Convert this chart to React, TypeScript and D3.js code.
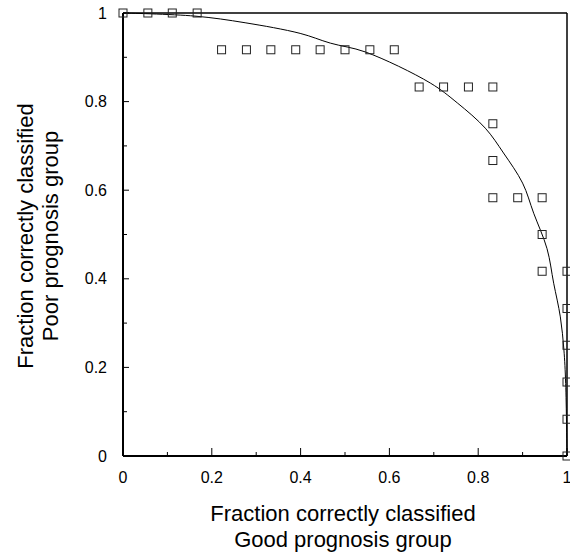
import React from "react";
import * as d3 from "d3";

const pointX = [0, 0.056, 0.111, 0.167, 0.222, 0.278, 0.333, 0.389, 0.444, 0.5, 0.556, 0.611, 0.667, 0.722, 0.778, 0.833, 0.833, 0.833, 0.833, 0.889, 0.944, 0.944, 0.944, 1, 1, 1, 1, 1, 1];
const pointY = [1, 1, 1, 1, 0.917, 0.917, 0.917, 0.917, 0.917, 0.917, 0.917, 0.917, 0.833, 0.833, 0.833, 0.833, 0.75, 0.667, 0.583, 0.583, 0.583, 0.5, 0.417, 0.417, 0.333, 0.25, 0.167, 0.083, 0];

const curveX = [0, 0.162, 0.275, 0.399, 0.467, 0.546, 0.692, 0.753, 0.816, 0.857, 0.9, 0.925, 0.955, 0.97, 0.985, 0.993, 0.997, 1];
const curveY = [1, 0.993, 0.978, 0.954, 0.932, 0.912, 0.842, 0.797, 0.74, 0.684, 0.616, 0.548, 0.468, 0.39, 0.314, 0.24, 0.164, 0];

const majorTicks = [0, 0.2, 0.4, 0.6, 0.8, 1];
const majorLabels = ["0", "0.2", "0.4", "0.6", "0.8", "1"];
const minorTicks = [0.1, 0.3, 0.5, 0.7, 0.9];

const xTitle = ["Fraction correctly classified", "Good prognosis group"];
const yTitle = ["Fraction correctly classified", "Poor prognosis group"];

const W = 570;
const H = 553;
const left = 123;
const right = 567;
const top = 13;
const bottom = 456;

export default function App() {
  const x = d3.scaleLinear().domain([0, 1]).range([left, right]);
  const y = d3.scaleLinear().domain([0, 1]).range([bottom, top]);
  const curvePts: [number, number][] = curveX.map((v, i) => [v, curveY[i]]);
  const line = d3
    .line<[number, number]>()
    .x((d) => x(d[0]))
    .y((d) => y(d[1]))
    .curve(d3.curveCatmullRom.alpha(0.5));
  const font = "'Liberation Sans', Arial, sans-serif";
  const s = 8;
  return (
    <svg
      width={W}
      height={H}
      style={{ position: "absolute", left: 0, top: 0, background: "#fff" }}
      fontFamily={font}
    >
      {/* frame */}
      <line x1={left} x2={right} y1={top} y2={top} stroke="#000" strokeWidth={1.5} />
      <line x1={right} x2={right} y1={top} y2={bottom} stroke="#000" strokeWidth={1.5} />
      {/* curve */}
      <path d={line(curvePts) || ""} fill="none" stroke="#000" strokeWidth={1} />
      {/* axes */}
      <line x1={left} x2={right} y1={bottom} y2={bottom} stroke="#000" strokeWidth={2} />
      <line x1={left} x2={left} y1={top} y2={bottom} stroke="#000" strokeWidth={2} />
      {majorTicks.map((t, i) => (
        <g key={"mx" + i}>
          <line x1={x(t)} x2={x(t)} y1={bottom} y2={bottom - 8} stroke="#000" strokeWidth={1} />
          <text x={x(t)} y={bottom + 27} textAnchor="middle" fontSize={16}>
            {majorLabels[i]}
          </text>
          <line x1={left} x2={left + 6} y1={y(t)} y2={y(t)} stroke="#000" strokeWidth={1} />
          <text x={left - 16} y={y(t) + 5.5} textAnchor="end" fontSize={16}>
            {majorLabels[i]}
          </text>
        </g>
      ))}
      {minorTicks.map((t, i) => (
        <g key={"mn" + i}>
          <line x1={x(t)} x2={x(t)} y1={bottom} y2={bottom - 4} stroke="#000" strokeWidth={1} />
          <line x1={left} x2={left + 4} y1={y(t)} y2={y(t)} stroke="#000" strokeWidth={1} />
        </g>
      ))}
      {/* points */}
      {pointX.map((v, i) => (
        <rect
          key={"p" + i}
          x={x(v) - s / 2}
          y={y(pointY[i]) - s / 2}
          width={s}
          height={s}
          fill="none"
          stroke="#222"
          strokeWidth={1}
        />
      ))}
      {/* x title */}
      {xTitle.map((t, i) => (
        <text key={"xt" + i} x={343} y={521 + i * 26} textAnchor="middle" fontSize={22}>
          {t}
        </text>
      ))}
      {/* y title */}
      {yTitle.map((t, i) => (
        <text
          key={"yt" + i}
          transform={`translate(${33 + i * 25},236) rotate(-90)`}
          textAnchor="middle"
          fontSize={22}
        >
          {t}
        </text>
      ))}
    </svg>
  );
}
